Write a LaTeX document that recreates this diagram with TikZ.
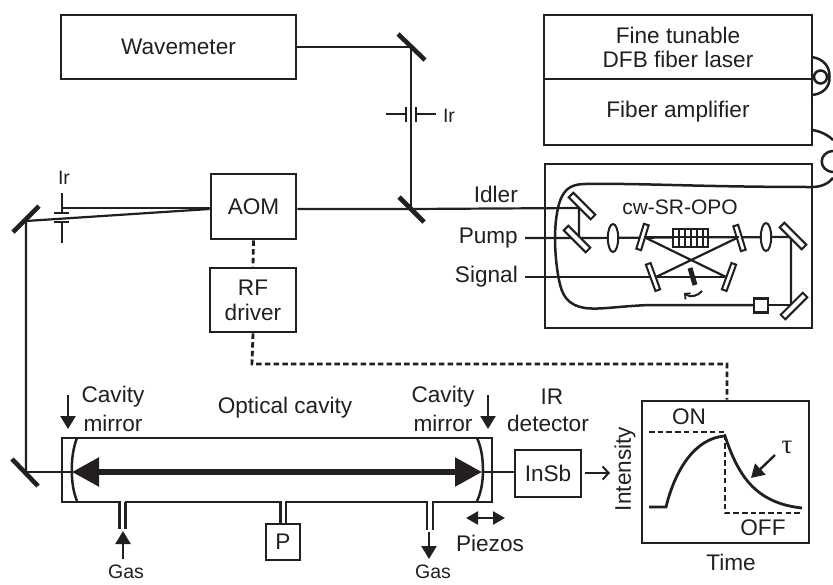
\documentclass[tikz,border=0pt]{standalone}
\usepackage{fontspec}
\setmainfont{Liberation Sans}
\newfontfamily\taufont{Liberation Serif}
\usetikzlibrary{arrows.meta,calc}
\definecolor{ink}{HTML}{231F20}
\tikzset{
  every node/.style={text=ink},
  lab/.style={font=\fontsize{22.6}{24}\selectfont,inner sep=0pt,align=center},
  slab/.style={font=\fontsize{19.5}{22}\selectfont,inner sep=0pt,align=center},
  box/.style={draw=ink,line width=2.8pt,fill=white,inner sep=0pt,align=center,font=\fontsize{22.6}{26}\selectfont},
  beam/.style={draw=ink,line width=2.2pt},
  bar/.style={draw=ink,line width=2.5pt},
  blackmirror/.style={line width=4.6pt,draw=ink},
  optic/.style={draw=ink,line width=2pt,fill=white,inner sep=0pt,rectangle},
  lensshape/.style={draw=ink,line width=2pt,fill=white},
  dashb/.style={draw=ink,line width=2.8pt,dash pattern=on 5.5pt off 3.2pt},
  sarrow/.style={draw=ink,line width=2.4pt,-{Triangle[length=13pt,width=15pt]}},
  darrow/.style={draw=ink,line width=2.4pt,{Triangle[length=12pt,width=13pt]}-{Triangle[length=12pt,width=13pt]}},
  openarrow/.style={draw=ink,line width=2.2pt,-{Straight Barb[length=6pt,width=13pt,line width=2pt]}},
  bigarrow/.style={draw=ink,line width=5.4pt,{Triangle[length=27pt,width=28pt]}-{Triangle[length=27pt,width=28pt]}},
}
\newcommand{\Bx}[6]{\node[box,minimum width=#4pt,minimum height=#5pt] (#1) at (#2,#3) {#6};}
\begin{document}
\begin{tikzpicture}[x=1pt,y=-1pt,line join=miter]
\useasboundingbox[fill=white] (0,0) rectangle (833,584);

% fixed optical points
\coordinate (mWave) at (411,47);
\coordinate (mSplit) at (411,209);
\coordinate (mLeft) at (26,221);
\coordinate (mLow) at (26,472);
\coordinate (mI) at (579,208);
\coordinate (mP) at (579,238);
\coordinate (mR) at (791,237);
\coordinate (mB) at (791,305);
\coordinate (c1) at (644,237);
\coordinate (c2) at (739,237);
\coordinate (c3) at (656,277);
\coordinate (c4) at (726,277);
\coordinate (fEnd) at (812,187);
\coordinate (pumpS) at (525,238);
\coordinate (signalS) at (525,277);

% boxes
\Bx{wave}{178.5}{47}{235}{64}{Wavemeter}
\Bx{laser}{678}{47}{268}{64}{Fine tunable\\[-2pt]DFB fiber laser}
\Bx{amp}{678}{112}{268}{66}{Fiber amplifier}
\node[box,minimum width=267pt,minimum height=164pt] (opo) at (678.5,246) {};
\Bx{aom}{253.5}{206.5}{85}{65}{AOM}
\Bx{rf}{253}{300}{86}{64}{RF\\[-1pt]driver}
\node[draw=ink,line width=2.8pt,fill=white,minimum width=430pt,minimum height=64pt,inner sep=0pt] (cav) at (277,470) {};
\Bx{insb}{548}{473.5}{66}{47}{InSb}
\Bx{pres}{283}{542}{34}{36}{P}
\node[box,minimum width=167pt,minimum height=142pt] (graph) at (725.5,472) {};

% laser fibre loops
\draw[bar] (812,57) .. controls (824,59) and (830,67) .. (829.5,77) .. controls (830,87) and (823,94) .. (812,95);
\draw[bar] (820.5,77) circle (6.5);
\draw[bar] (812,130) .. controls (820,131) and (828,135) .. (833,140);
\draw[bar] (833,151) .. controls (818,152) and (818,171) .. (833,172);

% beams
\draw[beam] (wave.east |- mWave) -- (mWave) -- (mSplit);
\draw[beam] (aom.east |- mSplit) -- (mSplit) -- (mI) -- (mP);
\draw[beam] (pumpS) -- (mP) -- (mR) -- (mB);
\draw[beam] (signalS) -- (c3) -- (c4);
\draw[beam] (c1) -- (c4);
\draw[beam] (c2) -- (c3);
\draw[beam] (mB) -- (768,305);
% fibre inside the OPO box
\draw[bar] (754,305) -- (650,305) .. controls (620,306) and (600,310) .. (585,308)
  .. controls (567,305) and (562,295) .. (559,280)
  .. controls (555,260) and (553,230) .. (558,208) .. controls (562,190) and (570,184) .. (585,184)
  .. controls (640,183) and (700,187) .. (fEnd) .. controls (822,187) and (829,183) .. (833,178);

% left side beams
\draw[beam] (aom.west |- 0,208) -- (62,208);
\draw[beam] (aom.west |- 0,209) -- (mLeft) -- (mLow);
\draw[beam] (mLow) -- (72,472);
\draw[beam] (483,472) -- (insb.west |- mLow);

% black mirrors
\draw[blackmirror] (398,34) -- (425,60);
\draw[blackmirror] (399,197) -- (424,222);
\draw[blackmirror] (13,232) -- (39,206);
\draw[blackmirror] (12,459) -- (38,486);
\draw[line width=5pt,draw=ink] (690,268) -- (695,285);

% OPO optics
\node[optic,minimum width=31pt,minimum height=6.5pt,rotate=-45] (oI) at (582,206) {};
\node[optic,minimum width=31pt,minimum height=6.5pt,rotate=-45] (oP) at (577,239) {};
\node[optic,minimum width=31pt,minimum height=6.5pt,rotate=-45] (oR) at (793,236) {};
\node[optic,minimum width=31pt,minimum height=6.5pt,rotate=45] (oB) at (794,306) {};
\node[optic,minimum width=26pt,minimum height=5pt,rotate=73] (o1) at (642.5,237) {};
\node[optic,minimum width=26pt,minimum height=5pt,rotate=-73] (o2) at (739.5,238) {};
\node[optic,minimum width=28pt,minimum height=5pt,rotate=-70] (o3) at (653,277) {};
\node[optic,minimum width=28pt,minimum height=5pt,rotate=70] (o4) at (729,277) {};
\draw[lensshape] (613,238) ellipse (5.2 and 14);
\draw[lensshape] (766,237) ellipse (5.2 and 14);
\node[optic,line width=2.4pt,minimum width=14pt,minimum height=14pt] (sq) at (761,305.5) {};
% crystal
\draw[draw=ink,line width=1.8pt,fill=white] (673,229) rectangle (708,247);
\foreach \x in {679,685,691,697,703}{\draw[draw=ink,line width=1.8pt] (\x,229) -- (\x,247);}
\draw[draw=ink,line width=2.4pt] (c1) -- (c2);
% rotating plate arrow
\draw[draw=ink,line width=2pt,-{Straight Barb[length=4pt,width=8pt,line width=1.8pt]}] (702,291) .. controls (698,296) and (690,298) .. (684,293);

% irises
\draw[bar] (386,114) -- (406,114);
\draw[bar] (406,107) -- (406,122);
\draw[bar] (416,107) -- (416,122);
\draw[bar] (416,114) -- (436,114);
\draw[bar] (62,193) -- (62,213);
\draw[bar] (54,213) -- (69,213);
\draw[bar] (54,222) -- (69,222);
\draw[bar] (62,222) -- (62,243);

% RF dashes
\draw[dashb] (aom.south) -- (rf.north);
\draw[dashb] (rf.south) -- (252,364) -- (727,364) -- (graph.north -| 727,0);

% cavity mirrors, tube ports
\draw[bar] (77,438) .. controls (70,455) and (70,485) .. (77,501);
\draw[bar] (477,438) .. controls (485,455) and (485,485) .. (477,501);
\fill[white] (120.5,500) rectangle (124.5,504);
\draw[bar] (119.5,502) -- (119.5,529);
\draw[bar] (125.5,502) -- (125.5,529);
\fill[white] (428,500) rectangle (432,504);
\draw[bar] (427,502) -- (427,530);
\draw[bar] (433,502) -- (433,530);
\fill[white] (281.5,500) rectangle (285,504);
\draw[bar] (280.5,502) -- (pres.north -| 280.5,0);
\draw[bar] (286,502) -- (pres.north -| 286,0);
\draw[bigarrow] (72,472) -- (482,472);

% small arrows
\draw[sarrow] (68,395) -- (68,429);
\draw[sarrow] (488,395) -- (488,429);
\draw[sarrow] (123,559) -- (123,531);
\draw[sarrow] (429,532) -- (429,559);
\draw[darrow] (466,518) -- (505,518);
\draw[openarrow] (585,473) -- (610,473);

% graph contents
\draw[dashb] (649,432) -- (725,432) -- (725,513) -- (802,513);
\draw[draw=ink,line width=2.8pt] (649,507) -- (666,507) .. controls (675,470) and (695,438) .. (725,436)
  .. controls (738,475) and (755,503) .. (802,508);
\draw[sarrow] (775,455) -- (751,478);

% labels
\node[slab] (lIr1) at (449,116) {Ir};
\node[slab] (lIr2) at (64,178) {Ir};
\node[lab,anchor=east] (lId) at (518,194) {Idler};
\node[lab,anchor=east] (lPu) at (518,238) {Pump};
\node[lab,anchor=east] (lSi) at (518,277) {Signal};
\node[lab,font=\fontsize{21}{24}\selectfont] (lOPO) at (680,207) {cw-SR-OPO};
\node[lab] (lC1) at (113,397) {Cavity};
\node[lab] (lM1) at (113,423) {mirror};
\node[lab] (lC2) at (443,397) {Cavity};
\node[lab] (lM2) at (443,423) {mirror};
\node[lab] (lOC) at (285,408) {Optical cavity};
\node[lab] (lIR) at (552,397) {IR};
\node[lab] (lDe) at (548,423) {detector};
\node[lab] (lPi) at (490,543) {Piezos};
\node[slab] (lG1) at (126,572) {Gas};
\node[slab] (lG2) at (433,572) {Gas};
\node[lab] (lON) at (689,417) {ON};
\node[lab] (lOFF) at (763,528) {OFF};
\node[lab] (lTi) at (731,562) {Time};
\node[lab,rotate=90] (lIn) at (625,469) {Intensity};
\node[lab,font=\fontsize{27}{27}\selectfont\taufont] (lTau) at (787,447) {τ};
\end{tikzpicture}
\end{document}
